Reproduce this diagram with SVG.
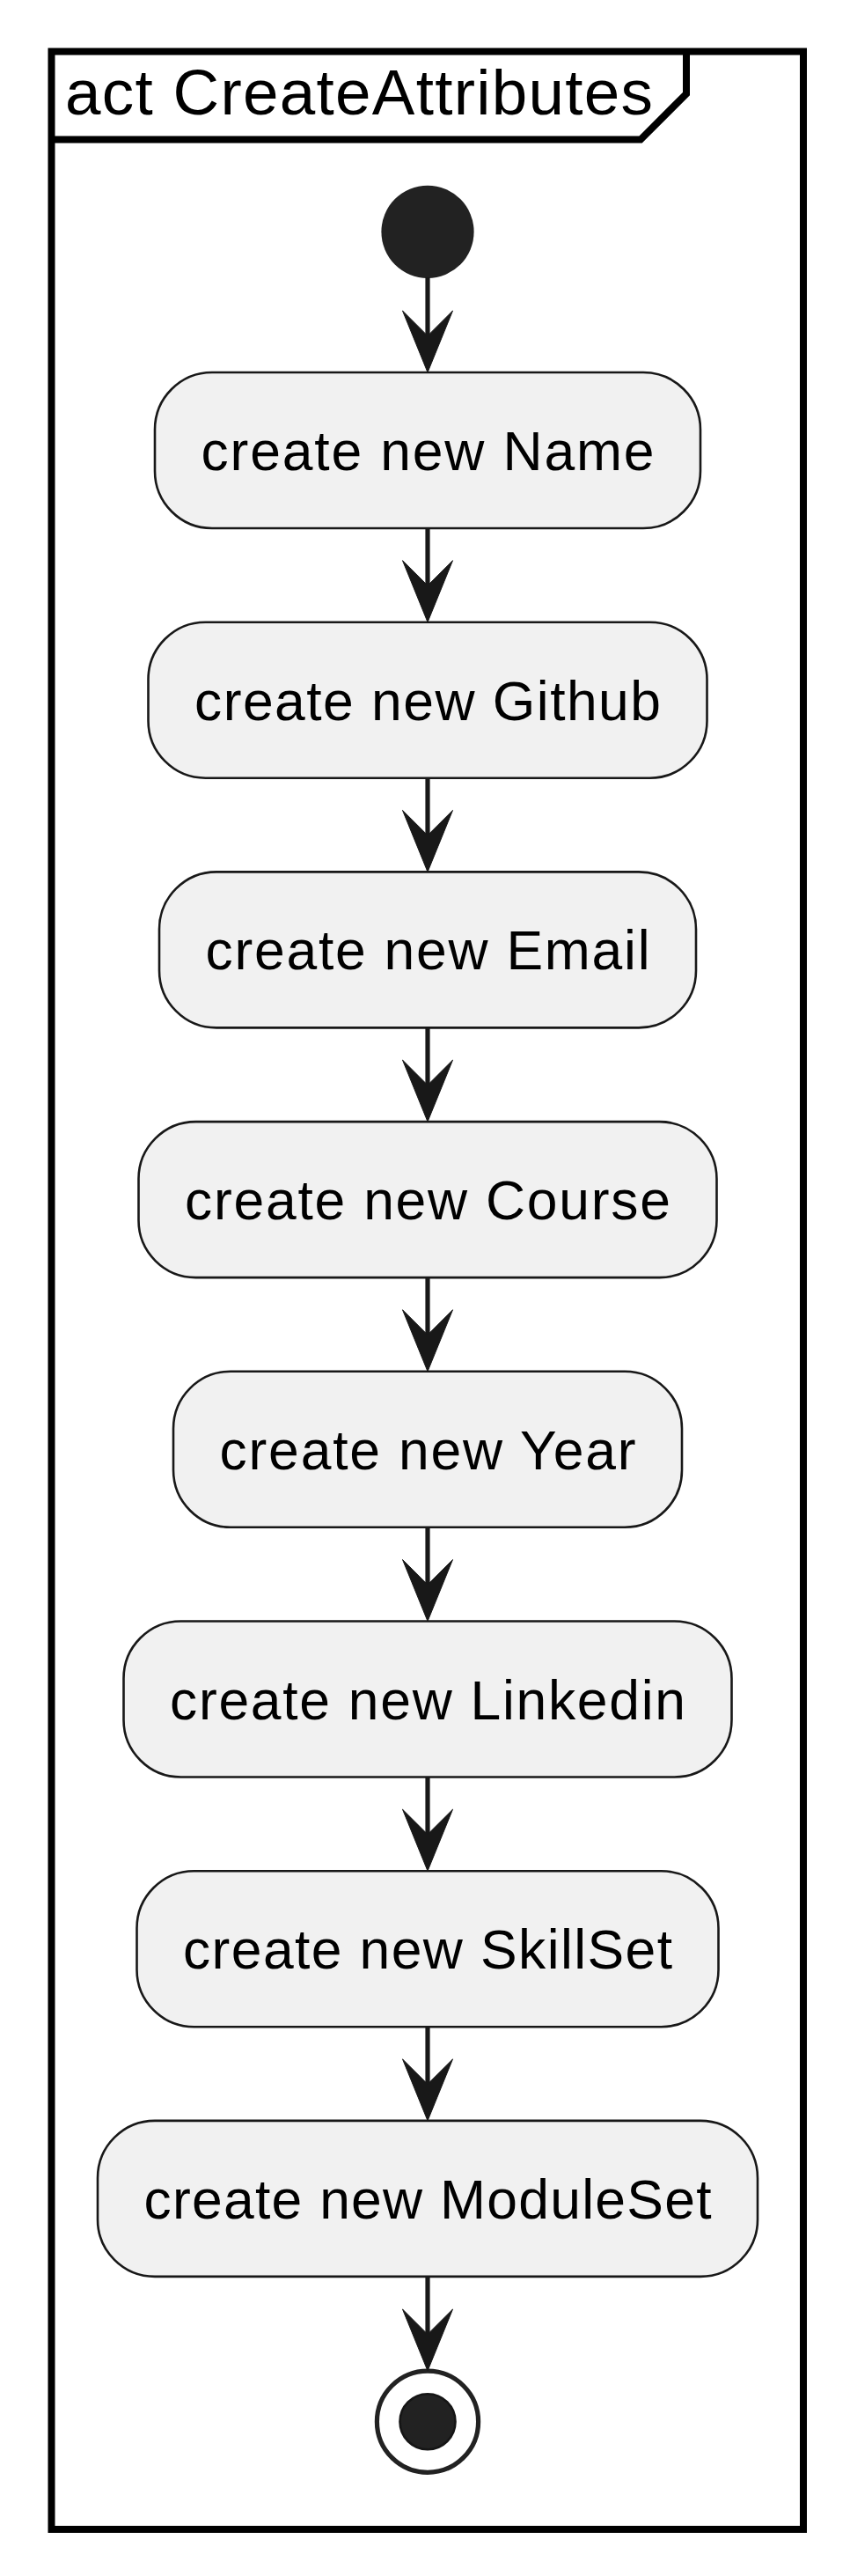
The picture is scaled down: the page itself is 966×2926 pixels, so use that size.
<svg xmlns="http://www.w3.org/2000/svg" width="966" height="2926" viewBox="0 0 966 2926">
<style>
.box{fill:#F1F1F1;stroke:#181818;stroke-width:2.6}
.lbl{font-family:"Liberation Sans",Arial,sans-serif;font-size:62.4px;fill:#000}
.ttl{font-family:"Liberation Sans",Arial,sans-serif;font-size:72.8px;fill:#000}
.ln{stroke:#181818;stroke-width:5.2;fill:none}
.ah{fill:#181818;stroke:#181818;stroke-width:1}
</style>
<rect width="966" height="2926" fill="#FFFFFF"/>
<g id="frame">
<rect x="58.5" y="58.5" width="854.5" height="2814.5" fill="none" stroke="#000" stroke-width="8"/>
<path d="M58.5,158.5 L728,158.5 L780,106.5 L780,58.5" fill="none" stroke="#000" stroke-width="8"/>
<text class="ttl" x="74" y="130" textLength="668" lengthAdjust="spacing">act CreateAttributes</text>
</g>
<g id="start"><circle cx="486" cy="263.3" r="52.6" fill="#222222"/></g>
<g id="n1"><rect class="box" x="176" y="423" width="620" height="177" rx="65" ry="65"/><text class="lbl" x="228.5" y="534" textLength="515" lengthAdjust="spacing">create new Name</text></g>
<g id="n2"><rect class="box" x="168.5" y="706.7" width="635" height="177" rx="65" ry="65"/><text class="lbl" x="221" y="817.7" textLength="530" lengthAdjust="spacing">create new Github</text></g>
<g id="n3"><rect class="box" x="181" y="990.4" width="610" height="177" rx="65" ry="65"/><text class="lbl" x="233.5" y="1101.4" textLength="505" lengthAdjust="spacing">create new Email</text></g>
<g id="n4"><rect class="box" x="157.5" y="1274.1" width="657" height="177" rx="65" ry="65"/><text class="lbl" x="210" y="1385.1" textLength="552" lengthAdjust="spacing">create new Course</text></g>
<g id="n5"><rect class="box" x="197" y="1557.8" width="578" height="177" rx="65" ry="65"/><text class="lbl" x="249.5" y="1668.8" textLength="473" lengthAdjust="spacing">create new Year</text></g>
<g id="n6"><rect class="box" x="140.5" y="1841.5" width="691" height="177" rx="65" ry="65"/><text class="lbl" x="193" y="1952.5" textLength="586" lengthAdjust="spacing">create new Linkedin</text></g>
<g id="n7"><rect class="box" x="155.5" y="2125.2" width="661" height="177" rx="65" ry="65"/><text class="lbl" x="208" y="2236.2" textLength="556" lengthAdjust="spacing">create new SkillSet</text></g>
<g id="n8"><rect class="box" x="111" y="2408.9" width="750" height="177" rx="65" ry="65"/><text class="lbl" x="163.5" y="2519.9" textLength="645" lengthAdjust="spacing">create new ModuleSet</text></g>
<g id="end">
<circle cx="486" cy="2750.7" r="57.6" fill="none" stroke="#222222" stroke-width="5.2"/>
<circle cx="486" cy="2750.7" r="31.5" fill="#222222" stroke="#151515" stroke-width="2.6"/>
</g>
<g id="connectors">
<line class="ln" x1="486" y1="315" x2="486" y2="400"/>
<polygon class="ah" points="457.5,353 486,423 514.5,353 486,381.4"/>
<line class="ln" x1="486" y1="600" x2="486" y2="684"/>
<polygon class="ah" points="457.5,636.7 486,706.7 514.5,636.7 486,665.1"/>
<line class="ln" x1="486" y1="883.7" x2="486" y2="968"/>
<polygon class="ah" points="457.5,920.4 486,990.4 514.5,920.4 486,948.8"/>
<line class="ln" x1="486" y1="1167.4" x2="486" y2="1252"/>
<polygon class="ah" points="457.5,1204.1 486,1274.1 514.5,1204.1 486,1232.5"/>
<line class="ln" x1="486" y1="1451.1" x2="486" y2="1535"/>
<polygon class="ah" points="457.5,1487.8 486,1557.8 514.5,1487.8 486,1516.2"/>
<line class="ln" x1="486" y1="1734.8" x2="486" y2="1819"/>
<polygon class="ah" points="457.5,1771.5 486,1841.5 514.5,1771.5 486,1799.9"/>
<line class="ln" x1="486" y1="2018.5" x2="486" y2="2103"/>
<polygon class="ah" points="457.5,2055.2 486,2125.2 514.5,2055.2 486,2083.6"/>
<line class="ln" x1="486" y1="2302.2" x2="486" y2="2386"/>
<polygon class="ah" points="457.5,2338.9 486,2408.9 514.5,2338.9 486,2367.3"/>
<line class="ln" x1="486" y1="2585.9" x2="486" y2="2670"/>
<polygon class="ah" points="457.5,2623 486,2693 514.5,2623 486,2651.4"/>
</g>
</svg>
